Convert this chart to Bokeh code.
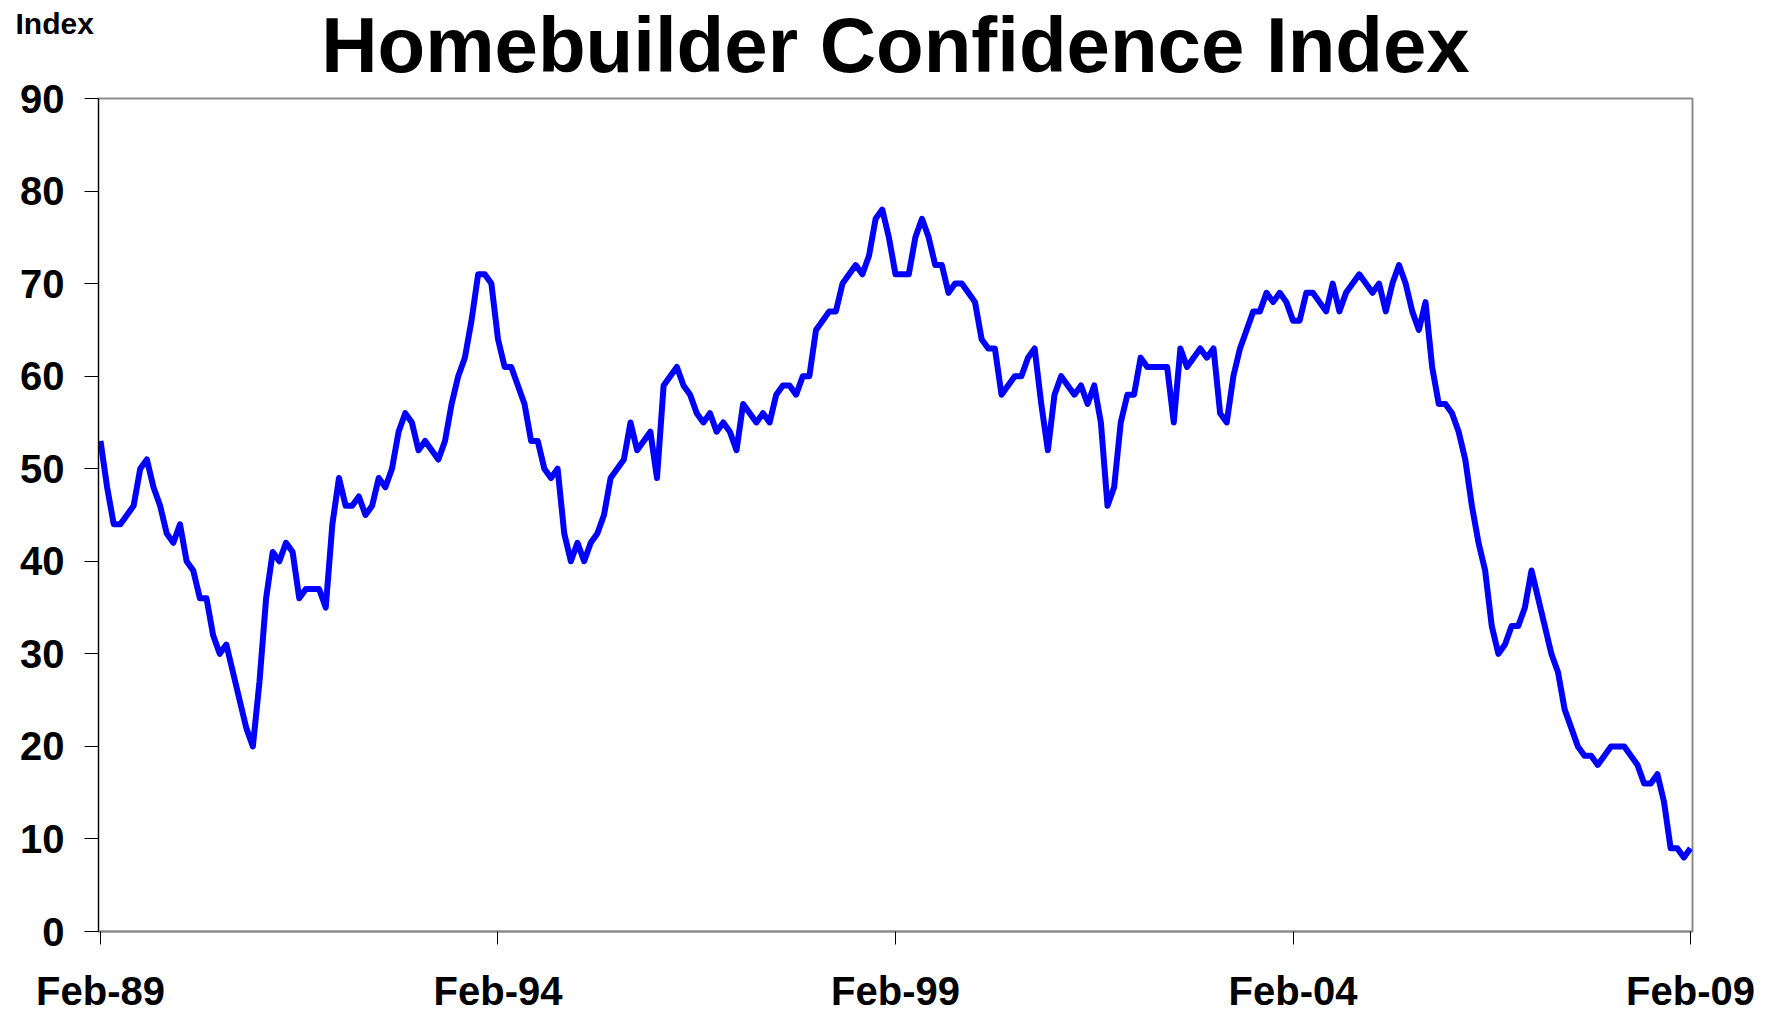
from bokeh.plotting import figure
from bokeh.models import Range1d, FixedTicker, Label
from bokeh.embed import file_html
from bokeh.resources import INLINE

# Monthly index values, Feb-1989 .. Feb-2009
y1989 = [53, 48, 44, 44, 45, 46, 50, 51, 48, 46, 43]          # Feb-Dec
y1990 = [42, 44, 40, 39, 36, 36, 32, 30, 31, 28, 25, 22]
y1991 = [20, 27, 36, 41, 40, 42, 41, 36, 37, 37, 37, 35]
y1992 = [44, 49, 46, 46, 47, 45, 46, 49, 48, 50, 54, 56]
y1993 = [55, 52, 53, 52, 51, 53, 57, 60, 62, 66, 71, 71]
y1994 = [70, 64, 61, 61, 59, 57, 53, 53, 50, 49, 50, 43]
y1995 = [40, 42, 40, 42, 43, 45, 49, 50, 51, 55, 52, 53]
y1996 = [54, 49, 59, 60, 61, 59, 58, 56, 55, 56, 54, 55]
y1997 = [54, 52, 57, 56, 55, 56, 55, 58, 59, 59, 58, 60]
y1998 = [60, 65, 66, 67, 67, 70, 71, 72, 71, 73, 77, 78]
y1999 = [75, 71, 71, 71, 75, 77, 75, 72, 72, 69, 70, 70]
y2000 = [69, 68, 64, 63, 63, 58, 59, 60, 60, 62, 63, 57]
y2001 = [52, 58, 60, 59, 58, 59, 57, 59, 55, 46, 48, 55]
y2002 = [58, 58, 62, 61, 61, 61, 61, 55, 63, 61, 62, 63]
y2003 = [62, 63, 56, 55, 60, 63, 65, 67, 67, 69, 68, 69]
y2004 = [68, 66, 66, 69, 69, 68, 67, 70, 67, 69, 70, 71]
y2005 = [70, 69, 70, 67, 70, 72, 70, 67, 65, 68, 61, 57]
y2006 = [57, 56, 54, 51, 46, 42, 39, 33, 30, 31, 33, 33]
y2007 = [35, 39, 36, 33, 30, 28, 24, 22, 20, 19, 19, 18]
y2008 = [19, 20, 20, 20, 19, 18, 16, 16, 17, 14, 9, 9]
y2009 = [8, 9]                                               # Jan-Feb

values = (y1989 + y1990 + y1991 + y1992 + y1993 + y1994 + y1995 + y1996 +
          y1997 + y1998 + y1999 + y2000 + y2001 + y2002 + y2003 + y2004 +
          y2005 + y2006 + y2007 + y2008 + y2009)
months = list(range(len(values)))   # month index from Feb-89

tick_labels = ["Feb-89", "Feb-94", "Feb-99", "Feb-04", "Feb-09"]
tick_months = [0, 60, 120, 180, 240]
y_ticks = [0, 10, 20, 30, 40, 50, 60, 70, 80, 90]

title_text = "Homebuilder Confidence Index"
unit_text = "Index"

FONT = "Liberation Sans"
X0, X1 = -0.3, len(values) - 1 + 0.3

p = figure(width=1772, height=1015, output_backend="svg", toolbar_location=None,
           x_range=Range1d(X0, X1), y_range=Range1d(0, 90),
           min_border_left=98, min_border_right=80, min_border_top=98, min_border_bottom=82)

p.background_fill_color = "white"
p.border_fill_color = "white"
p.outline_line_color = "#8c8c8c"
p.outline_line_width = 2
p.xgrid.grid_line_color = None
p.ygrid.grid_line_color = None

p.line(months, values, line_color="#0000FF", line_width=6, line_join="round")

# y axis
p.yaxis.ticker = FixedTicker(ticks=y_ticks)
p.yaxis.axis_line_color = "black"
p.yaxis.axis_line_width = 1
p.yaxis.major_tick_out = 14
p.yaxis.major_tick_in = 0
p.yaxis.minor_tick_line_color = None
p.yaxis.major_tick_line_color = "black"
p.yaxis.major_label_text_font = FONT
p.yaxis.major_label_text_font_style = "bold"
p.yaxis.major_label_text_font_size = "40px"
p.yaxis.major_label_text_color = "black"
p.yaxis.major_label_standoff = 20

# x axis
p.xaxis.ticker = FixedTicker(ticks=tick_months)
p.xaxis.major_label_overrides = {m: lab for m, lab in zip(tick_months, tick_labels)}
p.xaxis.axis_line_color = "#8c8c8c"
p.xaxis.axis_line_width = 2
p.xaxis.major_tick_out = 13
p.xaxis.major_tick_in = 0
p.xaxis.minor_tick_line_color = None
p.xaxis.major_tick_line_color = "black"
p.xaxis.major_label_text_font = FONT
p.xaxis.major_label_text_font_style = "bold"
p.xaxis.major_label_text_font_size = "40px"
p.xaxis.major_label_text_color = "black"
p.xaxis.major_label_standoff = 24

# title in the top side panel, unit label in the right side panel
# (side-panel annotations are not clipped to the frame)
p.add_layout(Label(x=(X0 + X1) / 2, y=90, y_offset=54, text=title_text,
                   text_align="center", text_baseline="middle", text_font=FONT,
                   text_font_style="bold", text_font_size="78px", text_color="black"), "above")

p.add_layout(Label(x=X0, y=90, x_offset=-83, y_offset=75, text=unit_text,
                   text_align="left", text_baseline="middle", text_font=FONT,
                   text_font_style="bold", text_font_size="30px", text_color="black"), "right")

open("out.html", "w").write(file_html(p, INLINE))
